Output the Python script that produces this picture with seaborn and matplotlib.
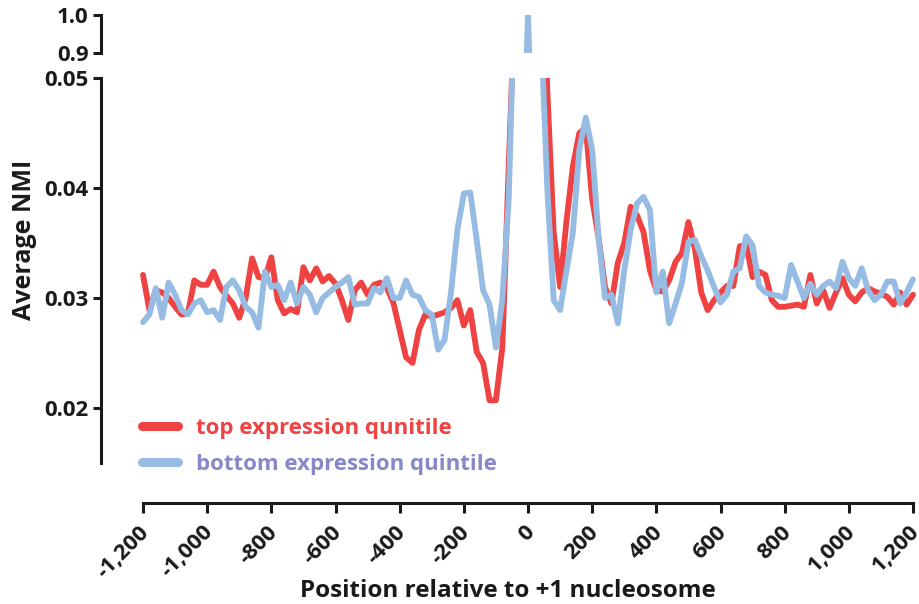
import seaborn as sns
import pandas as pd
import matplotlib.pyplot as plt
import matplotlib.transforms as mtransforms
from matplotlib.lines import Line2D

positions = list(range(-1200, 1201, 20))

top_quintile = [
    0.0321, 0.0289, 0.0307, 0.0305, 0.0300, 0.0292, 0.0285, 0.0286, 0.0316, 0.0312,
    0.0312, 0.0324, 0.0310, 0.0302, 0.0295, 0.0282, 0.0300, 0.0336, 0.0319, 0.0318,
    0.0337, 0.0298, 0.0286, 0.0290, 0.0287, 0.0328, 0.0316, 0.0327, 0.0315, 0.0320,
    0.0313, 0.0298, 0.0280, 0.0307, 0.0314, 0.0303, 0.0312, 0.0314, 0.0309, 0.0296,
    0.0271, 0.0246, 0.0241, 0.0271, 0.0285, 0.0283, 0.0285, 0.0287, 0.0291, 0.0298,
    0.0275, 0.0289, 0.0251, 0.0241, 0.0207, 0.0207, 0.0255, 0.0420, 0.0580, 0.5000,
    0.6000, 0.5000, 0.0700, 0.0490, 0.0360, 0.0310, 0.0370, 0.0420, 0.0450, 0.0455,
    0.0390, 0.0355, 0.0310, 0.0295, 0.0332, 0.0350, 0.0383, 0.0375, 0.0360, 0.0325,
    0.0307, 0.0306, 0.0316, 0.0333, 0.0341, 0.0369, 0.0345, 0.0305, 0.0289, 0.0298,
    0.0305, 0.0311, 0.0311, 0.0347, 0.0348, 0.0319, 0.0324, 0.0321, 0.0298, 0.0292,
    0.0292, 0.0293, 0.0294, 0.0292, 0.0321, 0.0295, 0.0307, 0.0291, 0.0305, 0.0318,
    0.0303, 0.0297, 0.0305, 0.0309, 0.0306, 0.0304, 0.0301, 0.0294, 0.0305, 0.0294,
    0.0303,
]

bottom_quintile = [
    0.0278, 0.0285, 0.0309, 0.0282, 0.0314, 0.0303, 0.0289, 0.0285, 0.0295, 0.0298,
    0.0287, 0.0289, 0.0280, 0.0310, 0.0316, 0.0307, 0.0292, 0.0287, 0.0273, 0.0324,
    0.0310, 0.0312, 0.0298, 0.0314, 0.0295, 0.0310, 0.0303, 0.0287, 0.0300, 0.0305,
    0.0310, 0.0314, 0.0319, 0.0294, 0.0295, 0.0295, 0.0309, 0.0305, 0.0318, 0.0300,
    0.0300, 0.0316, 0.0303, 0.0301, 0.0289, 0.0285, 0.0253, 0.0262, 0.0305, 0.0362,
    0.0395, 0.0396, 0.0353, 0.0307, 0.0294, 0.0255, 0.0298, 0.0390, 0.0600, 0.5000,
    1.0000, 0.5000, 0.0550, 0.0400, 0.0298, 0.0289, 0.0325, 0.0360, 0.0435, 0.0464,
    0.0435, 0.0355, 0.0300, 0.0303, 0.0277, 0.0325, 0.0362, 0.0386, 0.0392, 0.0380,
    0.0305, 0.0324, 0.0277, 0.0295, 0.0314, 0.0351, 0.0353, 0.0338, 0.0325, 0.0310,
    0.0296, 0.0303, 0.0324, 0.0327, 0.0356, 0.0348, 0.0311, 0.0305, 0.0303, 0.0302,
    0.0300, 0.0330, 0.0315, 0.0300, 0.0313, 0.0303, 0.0311, 0.0315, 0.0309, 0.0333,
    0.0318, 0.0311, 0.0327, 0.0307, 0.0298, 0.0303, 0.0315, 0.0315, 0.0295, 0.0305,
    0.0317,
]

x_ticks = list(range(-1200, 1201, 200))
series_names = ['top expression qunitile', 'bottom expression quintile']
line_colors = {'top expression qunitile': '#EF4343', 'bottom expression quintile': '#96BCE4'}
text_colors = ['#EF4343', '#8688C8']

df = pd.concat([
    pd.DataFrame({'pos': positions, 'nmi': top_quintile, 'group': series_names[0]}),
    pd.DataFrame({'pos': positions, 'nmi': bottom_quintile, 'group': series_names[1]}),
])

sns.set_style('ticks')
plt.rcParams['font.family'] = ['Open Sans', 'DejaVu Sans']
plt.rcParams['font.weight'] = 'bold'
ink = '#1a1a1a'

W, H = 920, 604
fig = plt.figure(figsize=(W / 100, H / 100), dpi=100)
left, right = 101 / W, 916 / W
ax = fig.add_axes([left, 1 - 463 / H, right - left, (463 - 78) / H])
ax_top = fig.add_axes([left, 1 - 53 / H, right - left, (53 - 15) / H])

px_per_unit = 770 / 2400
xlim = (-1200 - 42 / px_per_unit, 1200 + 3 / px_per_unit)

for a in (ax, ax_top):
    sns.lineplot(data=df, x='pos', y='nmi', hue='group', palette=line_colors,
                 hue_order=series_names, linewidth=4.2, legend=False, ax=a,
                 estimator=None, sort=False)
    a.set_xlim(*xlim)
    a.set_xlabel('')
    a.set_ylabel('')
    for s in ('top', 'right'):
        a.spines[s].set_visible(False)
    a.spines['left'].set_linewidth(2.2)
    a.spines['left'].set_color(ink)
    a.tick_params(axis='y', width=2.2, length=6, direction='out', pad=3,
                  labelsize=16, colors=ink)

# lower segment
ax.set_ylim(0.015, 0.05)
ax.spines['left'].set_bounds(0.015, 0.05)
ax.set_yticks([0.02, 0.03, 0.04, 0.05])
ax.set_yticklabels(['0.02', '0.03', '0.04', '0.05'])
ax.set_yticks([0.05], minor=True)
ax.tick_params(axis='y', which='minor', direction='in', length=7, width=2.2, colors=ink)
ax.spines['bottom'].set_position(('outward', 29))
ax.spines['bottom'].set_bounds(-1200, 1200)
ax.spines['bottom'].set_linewidth(2.2)
ax.spines['bottom'].set_color(ink)
ax.set_xticks(x_ticks)
ax.tick_params(axis='x', width=2.2, length=7, direction='out', labelbottom=False,
               colors=ink)
for lab in ax.get_yticklabels():
    lab.set_fontweight('bold')

# rotated x tick labels, placed just under the detached axis
lab_trans = mtransforms.blended_transform_factory(ax.transData, fig.transFigure) + \
    mtransforms.ScaledTranslation(3 / 100, 0, fig.dpi_scale_trans)
for t in x_ticks:
    ax.text(t, 1 - 529 / H, f'{t:,}', transform=lab_trans, rotation=45,
            rotation_mode='anchor', ha='right', va='center', fontsize=16,
            fontweight='bold', color=ink, clip_on=False)

# upper segment
ax_top.set_ylim(0.9, 1.0)
ax_top.spines['left'].set_bounds(0.9, 1.0)
ax_top.spines['bottom'].set_visible(False)
ax_top.set_yticks([0.9, 1.0])
ax_top.set_yticklabels(['0.9', '1.0'])
ax_top.set_yticks([0.9], minor=True)
ax_top.tick_params(axis='y', which='minor', direction='in', length=7, width=2.2, colors=ink)
ax_top.set_xticks([])
for lab in ax_top.get_yticklabels():
    lab.set_fontweight('bold')

fig.text(25 / W, 1 - 240 / H, 'Average NMI', rotation=90, ha='center', va='center',
         fontsize=18, fontweight='bold', color=ink)
fig.text(508 / W, 1 - 597 / H, 'Position relative to +1 nucleosome', ha='center',
         va='baseline', fontsize=17.5, fontweight='bold', color=ink)

handles = [Line2D([0], [0], color=line_colors[n], lw=6.5) for n in series_names]
leg = ax.legend(handles, series_names, loc='upper left', frameon=False,
                bbox_to_anchor=(142 / W, 1 - 418 / H), bbox_transform=fig.transFigure,
                borderaxespad=0, borderpad=0, handlelength=1.6, handletextpad=0.85,
                labelspacing=0.68, prop={'size': 16, 'weight': 'bold'})
for txt, c in zip(leg.get_texts(), text_colors):
    txt.set_color(c)

plt.savefig('out.png', dpi=100)
